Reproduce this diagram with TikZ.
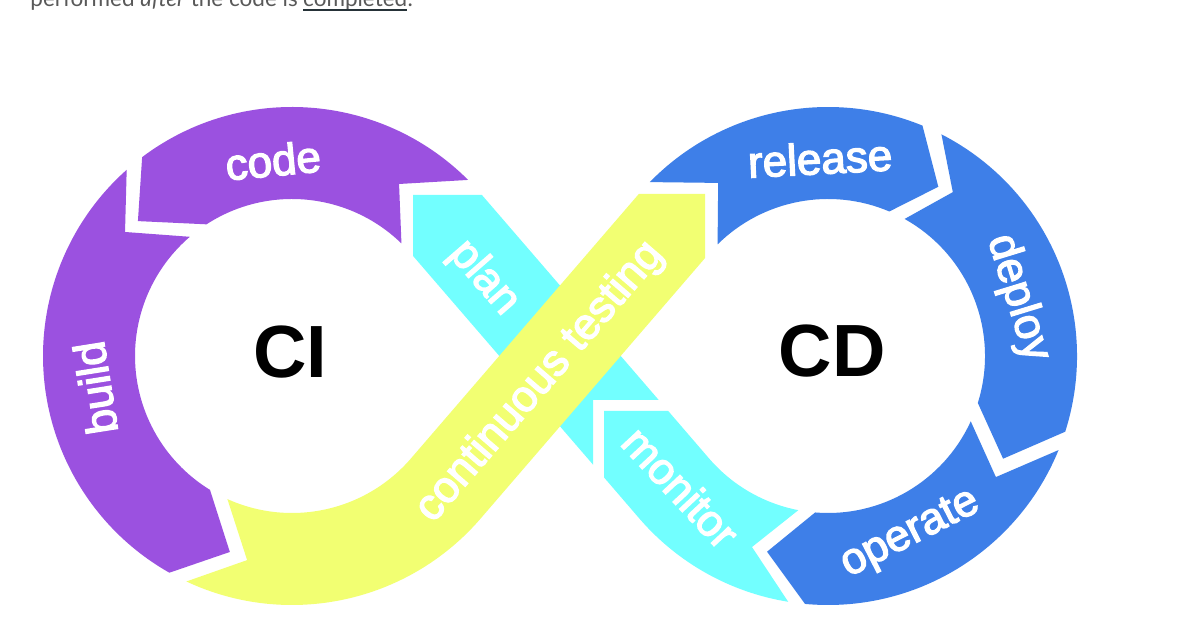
\documentclass[tikz,border=0pt]{standalone}
\usepackage{fontspec}
\setmainfont{Liberation Sans}
\newfontfamily\labfont[FakeBold=3]{Liberation Sans}
\newfontfamily\bigfont{Liberation Sans}
\newfontfamily\topfont{Lato}
\usetikzlibrary{calc}
\definecolor{ringpurple}{RGB}{155,81,224}
\definecolor{ringblue}{RGB}{62,127,232}
\definecolor{ringcyan}{RGB}{114,255,255}
\definecolor{ringyellow}{RGB}{242,255,114}
\definecolor{underl}{RGB}{38,50,56}
\begin{document}
\begin{tikzpicture}[x=1pt,y=1pt,
  lab/.style={font=\labfont\fontsize{44}{44}\selectfont, text=white, inner sep=0pt, text height=32pt, text depth=9pt, anchor=center},
  labn/.style={lab, text depth=0pt},
  big/.style={font=\bigfont\bfseries\fontsize{74}{74}\selectfont, text=black, inner sep=0pt, anchor=center},
  toptext/.style={font=\topfont\fontsize{22.5}{22.5}\selectfont, text=black!65, inner sep=0pt}]
\useasboundingbox (0,0) rectangle (1190,636);
\fill[white] (0,0) rectangle (1190,636);
\coordinate (C1) at (292,280);
\coordinate (C2) at (828,280);

% top cut-off line of text
\node[toptext, anchor=base east] (t1) at (298,629) {performed \textit{after} the code is};
\node[toptext, anchor=base west] (t2) at (303,629) {completed};
\node[toptext, anchor=base west] (t3) at (t2.base east) {.};
\draw[underl, line width=1.8pt] ($(t2.base west)+(0,-3)$) -- ($(t2.base east)+(0,-3)$);

% plan (cyan, under the yellow band)
\fill[ringcyan] (413,441) -- (481.9,441) -- (658.7,236) -- (593,236) -- (593,171.4) -- (413,380.1) -- cycle;

% code
\fill[ringpurple] ($(C1)+(45:249pt)$) arc[start angle=45, end angle=127, radius=249pt]
  -- ($(C1)+(138.8:204.8pt)$) -- ($(C1)+(123:157pt)$)
  arc[start angle=123, end angle=45.8, radius=157pt] -- ($(C1)+(58.1:202.6pt)$) -- cycle;
% build
\fill[ringpurple] ($(C1)+(131.6:249pt)$) arc[start angle=131.6, end angle=240.5, radius=249pt]
  -- ($(C1)+(252.4:205.6pt)$) -- ($(C1)+(238.5:157pt)$)
  arc[start angle=238.5, end angle=130.6, radius=157pt] -- ($(C1)+(143.4:208pt)$) -- cycle;
% continuous testing (yellow)
\fill[ringyellow] ($(C1)+(244.9:249pt)$) arc[start angle=244.9, end angle=319.25, radius=249pt]
  -- (705,377.9) -- (705,442) -- (638.8,442) -- ($(C1)+(319.25:157pt)$)
  arc[start angle=319.25, end angle=245.7, radius=157pt] -- ($(C1)+(257.6:209pt)$) -- cycle;
% release
\fill[ringblue] ($(C2)+(135.7:249pt)$) arc[start angle=135.7, end angle=67.7, radius=249pt]
  -- ($(C2)+(56.9:202pt)$) -- ($(C2)+(67:157pt)$)
  arc[start angle=67, end angle=134.7, radius=157pt] -- ($(C2)+(122.4:205pt)$) -- cycle;
% deploy
\fill[ringblue] ($(C2)+(62.9:249pt)$) arc[start angle=62.9, end angle=-17.7, radius=249pt]
  -- ($(C2)+(-30.4:203pt)$) -- ($(C2)+(-17.4:157pt)$)
  arc[start angle=-17.4, end angle=60.8, radius=157pt] -- ($(C2)+(52.7:206pt)$) -- cycle;
% operate
\fill[ringblue] ($(C2)+(-22.2:249pt)$) arc[start angle=-22.2, end angle=-95.3, radius=249pt]
  -- ($(C2)+(-107.3:205pt)$) -- ($(C2)+(-94.7:157pt)$)
  arc[start angle=-94.7, end angle=-24.6, radius=157pt] -- ($(C2)+(-35.8:207pt)$) -- cycle;
% monitor
\fill[ringcyan] ($(C2)+(260.8:249pt)$) arc[start angle=260.8, end angle=220.75, radius=249pt]
  -- (604,158.6) -- (604,225) -- (668.2,225) -- ($(C2)+(220.75:157pt)$)
  arc[start angle=220.75, end angle=259.1, radius=157pt] -- ($(C2)+(248.3:205.6pt)$) -- cycle;

% labels
\node[labn, rotate=5.5] (lcode) at (273,476) {code};
\node[labn, rotate=99] (lbuild) at (95,248) {build};
\node[lab, rotate=-49] (lplan) at (484,358) {plan};
\node[lab, rotate=49.25] (ltest) at (540,254) {continuous testing};
\node[labn, rotate=3] (lrelease) at (820,478) {release};
\node[lab, rotate=-73] (ldeploy) at (1018,338) {deploy};
\node[lab, rotate=27] (loperate) at (910,103) {operate};
\node[labn, rotate=-47] (lmonitor) at (681,149) {monitor};

\node[big] (ci) at (290,284) {CI};
\node[big] (cd) at (832,285) {CD};
\end{tikzpicture}
\end{document}
